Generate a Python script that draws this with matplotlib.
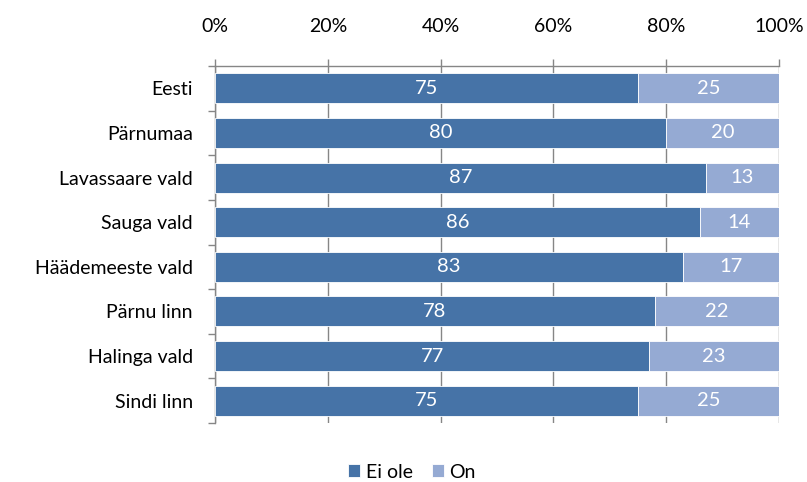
import numpy as np
import matplotlib.pyplot as plt

plt.rcParams['font.family'] = ['Lato', 'DejaVu Sans']

categories = ['Eesti', 'Pärnumaa', 'Lavassaare vald', 'Sauga vald',
              'Häädemeeste vald', 'Pärnu linn', 'Halinga vald', 'Sindi linn']
ei_ole = [75, 80, 87, 86, 83, 78, 77, 75]
on = [25, 20, 13, 14, 17, 22, 23, 25]
series_names = ['Ei ole', 'On']
colors = ['#4673A7', '#95AAD3']

fig = plt.figure(figsize=(8.07, 4.82), dpi=100)
ax = fig.add_axes([215 / 807, 1 - 423 / 482, 564 / 807, 357 / 482])

y = np.arange(len(categories))
b1 = ax.barh(y, ei_ole, height=0.67, color=colors[0], edgecolor='white', linewidth=0.6,
             label=series_names[0], zorder=3)
b2 = ax.barh(y, on, left=ei_ole, height=0.67, color=colors[1], edgecolor='white', linewidth=0.6,
             label=series_names[1], zorder=3)

# white value labels inside each segment
for bars, vals in ((b1, ei_ole), (b2, on)):
    for rect, v in zip(bars, vals):
        ax.text(rect.get_x() + rect.get_width() / 2, rect.get_y() + rect.get_height() / 2,
                str(v), ha='center', va='center', color='white', fontsize=14.5, zorder=4)

ax.set_xlim(0, 100)
ax.set_ylim(len(categories) - 0.5, -0.5)
ax.set_yticks(y)
ax.set_yticklabels(categories, fontsize=14)
ax.set_yticks(np.arange(len(categories) + 1) - 0.5, minor=True)
ax.tick_params(axis='y', which='major', length=0, pad=16)
ax.tick_params(axis='y', which='minor', length=5, color='#868686', width=1)

ax.xaxis.tick_top()
ax.set_xticks(np.arange(0, 101, 20))
ax.set_xticklabels([f'{v}%' for v in range(0, 101, 20)], fontsize=14)
ax.tick_params(axis='x', length=5, color='#868686', width=1, pad=17)
ax.grid(axis='x', color='#868686', linewidth=1, zorder=0)

for s in ['right', 'bottom']:
    ax.spines[s].set_visible(False)
for s in ['top', 'left']:
    ax.spines[s].set_color('#868686')
    ax.spines[s].set_linewidth(1)

fig.legend(handles=[b1, b2], labels=series_names, loc='center', bbox_to_anchor=(412 / 807, 1 - 472 / 482),
           ncol=2, frameon=False, fontsize=14, handlelength=0.6, handleheight=0.6,
           handletextpad=0.3, columnspacing=1.0)

fig.savefig('out.png', dpi=100)
